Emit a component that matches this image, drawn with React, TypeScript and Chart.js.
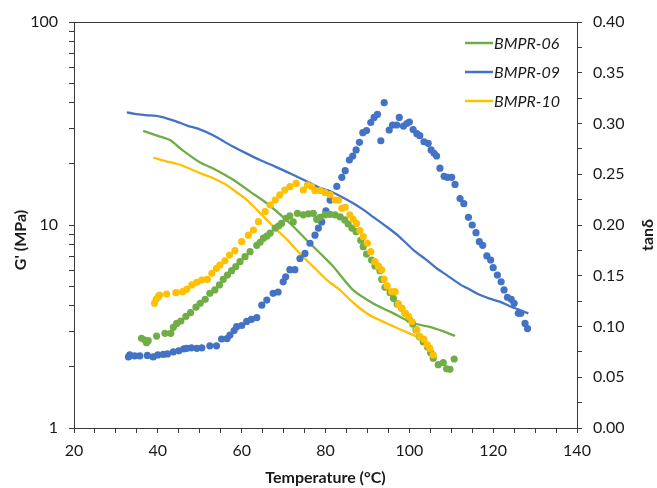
import { useEffect, useRef } from 'react';
import { Chart, registerables } from 'chart.js';

Chart.register(...registerables);

// ---- Axis ticks ----
const X_TICK_STEP = 5;
const Y_LOG_TICKS = [1, 2, 3, 4, 5, 6, 7, 8, 9, 10, 20, 30, 40, 50, 60, 70, 80, 90, 100];
const Y_LOG_LABELS = [1, 10, 100];

// ---- Series names & colours ----
const SERIES_NAMES = ['BMPR-06', 'BMPR-09', 'BMPR-10'];
const SERIES_COLORS = ['#70AD47', '#4472C4', '#FFC000'];

// ---- G' (MPa) curves (lines, left log axis) ----
const T06_G = [36.5, 40, 42.9, 45.7, 50.1, 53.2, 58, 62, 66, 71.5, 76.3, 78.7, 81.9, 83.5, 86.6, 91.4, 96.2, 101, 104.9, 108, 110.9];
const G06 = [29.1, 27.5, 26.2, 23.5, 20.3, 19.0, 16.7, 14.6, 12.8, 10.2, 8.12, 7.26, 6.23, 5.67, 4.78, 4.11, 3.67, 3.28, 3.15, 3.0, 2.84];

const T09_G = [32.6, 34.5, 37, 40.5, 44, 47, 50, 53.2, 56, 58, 61, 64.4, 68, 71.5, 75, 78.7, 81, 84, 86.6, 89, 91.5, 94.6, 97.5, 101, 104, 106.5, 109, 112.1, 114.5, 116.9, 119, 121.6, 124, 126.4, 128.4];
const G09 = [35.9, 35.3, 34.8, 34.2, 32.6, 30.9, 29.6, 27.7, 25.6, 24.3, 22.6, 20.9, 19.4, 18.0, 16.6, 15.2, 14.7, 13.7, 12.8, 11.9, 10.9, 9.8, 8.8, 7.53, 6.75, 6.12, 5.65, 5.1, 4.8, 4.52, 4.35, 4.19, 3.98, 3.81, 3.67];

const T10_G = [38.9, 42, 45.3, 50.1, 53.2, 56, 58, 61, 63.6, 66, 68.4, 71, 73.1, 75.5, 77.9, 80.3, 83.5, 86, 88.2, 91, 94.6, 98, 101.8];
const G10 = [21.5, 20.6, 19.8, 18.0, 17.0, 15.9, 14.9, 13.4, 11.9, 10.6, 9.45, 8.4, 7.53, 6.7, 6.0, 5.36, 4.78, 4.25, 3.89, 3.55, 3.28, 3.05, 2.82];

// ---- tan delta (dots, right axis) ----
const T06_D = [36.1, 36.9, 37.3, 37.7, 39.7, 41.7, 43.1, 43.7, 44.5, 45.5, 46.7, 47.8, 49.1, 50.1, 51.3, 52.4, 53.6, 54.7, 55.6, 56.6, 57.6, 58.6, 59.6, 60.8, 62, 63.6, 64.4, 65.2, 66, 66.8, 68, 68.8, 69.5, 70.6, 71.5, 72.3, 73.3, 74.7, 75.9, 77.1, 77.9, 78.7, 79.9, 81.1, 82.3, 83.5, 84.6, 85.4, 86.3, 87.3, 88.4, 89, 89.8, 91, 91.8, 93, 93.4, 94.2, 95.4, 96.2, 97.1, 98.2, 99, 100, 100.8, 101.6, 102.4, 103.3, 104.3, 105.1, 105.7, 106.9, 108.1, 108.9, 109.7, 110.7];
const D06 = [0.0884, 0.0867, 0.084, 0.086, 0.0906, 0.0933, 0.0933, 0.0992, 0.103, 0.1054, 0.110, 0.1136, 0.119, 0.1229, 0.1268, 0.1327, 0.136, 0.141, 0.1465, 0.1507, 0.155, 0.159, 0.1639, 0.1688, 0.1737, 0.180, 0.183, 0.187, 0.189, 0.192, 0.197, 0.199, 0.2016, 0.2066, 0.209, 0.203, 0.2115, 0.210, 0.211, 0.2115, 0.2056, 0.2076, 0.210, 0.2105, 0.210, 0.208, 0.205, 0.201, 0.197, 0.1934, 0.185, 0.1786, 0.1714, 0.1655, 0.1596, 0.155, 0.1465, 0.1386, 0.1333, 0.1278, 0.1222, 0.118, 0.113, 0.107, 0.1025, 0.0966, 0.090, 0.085, 0.080, 0.0742, 0.0687, 0.0624, 0.0644, 0.0583, 0.0578, 0.068];

const T09_D = [33, 33.3, 34.5, 35.7, 37.5, 38.9, 40, 41.3, 42.3, 43.7, 45, 46.2, 46.9, 48, 49.3, 50.5, 52.4, 54, 55.2, 56.5, 57.2, 58.2, 58.8, 60, 61.2, 62.3, 63.6, 64.8, 66, 67.5, 68.7, 69.9, 70.5, 71.5, 72.7, 73.9, 75.1, 76.3, 77.5, 78.3, 79.1, 80.1, 81.1, 82.7, 83.9, 84.7, 85.7, 86.5, 87.3, 88.1, 88.9, 89.8, 90.8, 91.6, 92.4, 93.2, 94.0, 95.2, 96, 97, 97.6, 98.6, 99.4, 100, 100.9, 101.8, 102.5, 103.5, 104.5, 105.2, 105.9, 106.5, 107.3, 108.3, 109.1, 110.1, 110.9, 112.1, 113, 114.1, 115, 115.9, 116.7, 117.5, 118.5, 119.4, 120, 121, 121.9, 122.6, 123.4, 124.3, 125, 126, 126.6, 127.6, 128.2];
const D09 = [0.070, 0.072, 0.071, 0.071, 0.0715, 0.070, 0.072, 0.0726, 0.073, 0.075, 0.076, 0.078, 0.0785, 0.079, 0.0785, 0.079, 0.081, 0.081, 0.0877, 0.088, 0.0916, 0.096, 0.0998, 0.101, 0.105, 0.107, 0.1087, 0.121, 0.126, 0.1327, 0.134, 0.144, 0.149, 0.156, 0.156, 0.167, 0.172, 0.182, 0.19, 0.197, 0.203, 0.214, 0.2246, 0.238, 0.247, 0.2535, 0.264, 0.268, 0.274, 0.2815, 0.291, 0.293, 0.301, 0.306, 0.309, 0.283, 0.3205, 0.2936, 0.2985, 0.2985, 0.306, 0.2975, 0.300, 0.3015, 0.294, 0.290, 0.288, 0.282, 0.2805, 0.274, 0.2706, 0.268, 0.256, 0.248, 0.247, 0.247, 0.240, 0.226, 0.221, 0.2076, 0.200, 0.1924, 0.1836, 0.180, 0.1695, 0.1655, 0.158, 0.1507, 0.144, 0.136, 0.1288, 0.1268, 0.1228, 0.113, 0.113, 0.103, 0.098];

const T10_D = [39.2, 39.6, 40.1, 40.4, 42.1, 44.3, 45.9, 46.9, 48.1, 49.3, 50.5, 51.8, 52.9, 54, 54.8, 56, 57.1, 58.4, 60, 61.6, 62.8, 64, 65.6, 66.8, 68, 69.1, 70.3, 71.5, 73, 74.7, 75.7, 76.7, 77.5, 78.7, 79.9, 81.1, 82.3, 83.1, 83.9, 84.7, 85.8, 86.6, 87.4, 88.2, 89, 90, 90.8, 91.8, 92.6, 93.4, 94, 94.7, 95.8, 96.6, 97.4, 98.2, 99, 99.8, 100.6, 101.8, 102.5, 103.5, 104.3, 104.9, 105.7];
const D10 = [0.1229, 0.1268, 0.1294, 0.131, 0.132, 0.1333, 0.1343, 0.1366, 0.141, 0.1435, 0.1458, 0.1465, 0.1524, 0.1573, 0.1606, 0.1648, 0.1704, 0.1747, 0.1836, 0.190, 0.195, 0.2033, 0.2131, 0.2197, 0.2246, 0.2296, 0.2345, 0.2378, 0.241, 0.2345, 0.2394, 0.2378, 0.234, 0.234, 0.2318, 0.230, 0.2246, 0.2246, 0.2165, 0.2175, 0.210, 0.2056, 0.2016, 0.1944, 0.1885, 0.182, 0.1737, 0.1639, 0.1596, 0.1557, 0.1465, 0.140, 0.1343, 0.1343, 0.1222, 0.118, 0.113, 0.110, 0.1047, 0.0966, 0.090, 0.0874, 0.0818, 0.0785, 0.072];

const pts = (xs: number[], ys: number[]) => xs.map((x, i) => ({ x, y: ys[i] }));

const FONT_FAMILY = "Lato, 'Noto Sans', 'DejaVu Sans', sans-serif";
const AXIS_COLOR = '#3a3a3a';
const TEXT_COLOR = '#1a1a1a';

const titlesAndLegend = {
  id: 'titlesAndLegend',
  afterDraw(chart: any) {
    const ctx = chart.ctx;
    const area = chart.chartArea;
    ctx.save();
    // top border of plot area
    ctx.strokeStyle = AXIS_COLOR;
    ctx.lineWidth = 1;
    ctx.beginPath();
    ctx.moveTo(area.left, area.top + 0.5);
    ctx.lineTo(area.right, area.top + 0.5);
    ctx.stroke();

    ctx.fillStyle = TEXT_COLOR;
    ctx.font = `bold 16px ${FONT_FAMILY}`;
    ctx.textAlign = 'center';
    ctx.textBaseline = 'middle';
    ctx.fillText('Temperature (°C)', (area.left + area.right) / 2, 478);

    ctx.save();
    ctx.translate(21, 240);
    ctx.rotate(-Math.PI / 2);
    ctx.fillText("G' (MPa)", 0, 0);
    ctx.restore();

    ctx.save();
    ctx.translate(648, 235);
    ctx.rotate(-Math.PI / 2);
    ctx.fillText('tanδ', 0, 0);
    ctx.restore();

    // legend
    ctx.font = `italic 16px ${FONT_FAMILY}`;
    ctx.textAlign = 'left';
    SERIES_NAMES.forEach((name, i) => {
      const y = 43 + i * 29;
      ctx.strokeStyle = SERIES_COLORS[i];
      ctx.lineWidth = 2.5;
      ctx.beginPath();
      ctx.moveTo(465, y);
      ctx.lineTo(493, y);
      ctx.stroke();
      ctx.fillStyle = TEXT_COLOR;
      ctx.fillText(name, 494, y + 1);
    });
    ctx.restore();
  },
};

export default function App() {
  const ref = useRef<HTMLCanvasElement>(null);

  useEffect(() => {
    if (!ref.current) return;
    const lineSets = [
      [T06_G, G06],
      [T09_G, G09],
      [T10_G, G10],
    ];
    const dotSets = [
      [T06_D, D06],
      [T09_D, D09],
      [T10_D, D10],
    ];
    const dotOrder = [1, 2, 0];
    const datasets: any[] = [];
    lineSets.forEach(([xs, ys], i) => {
      datasets.push({
        label: SERIES_NAMES[i],
        data: pts(xs, ys),
        yAxisID: 'y',
        showLine: true,
        borderColor: SERIES_COLORS[i],
        backgroundColor: SERIES_COLORS[i],
        borderWidth: 2.3,
        pointRadius: 0,
        tension: 0.25,
        order: 5 + i,
      });
    });
    dotSets.forEach(([xs, ys], i) => {
      datasets.push({
        label: SERIES_NAMES[i] + ' tanδ',
        data: pts(xs, ys),
        yAxisID: 'y2',
        showLine: false,
        backgroundColor: SERIES_COLORS[i],
        borderColor: SERIES_COLORS[i],
        borderWidth: 0,
        pointRadius: 3.6,
        order: dotOrder[i],
      });
    });

    const tickFont = { family: FONT_FAMILY, size: 16 };
    const gridCommon = {
      drawOnChartArea: false,
      drawTicks: true,
      tickLength: 5,
      tickColor: AXIS_COLOR,
      color: AXIS_COLOR,
      lineWidth: 1,
    };
    const borderCommon = { display: true, color: AXIS_COLOR, width: 1 };

    const chart = new Chart(ref.current, {
      type: 'scatter',
      data: { datasets },
      plugins: [titlesAndLegend],
      options: {
        responsive: false,
        animation: false,
        devicePixelRatio: 1,
        layout: { padding: { top: 22, left: 0, right: 0, bottom: 0 } },
        plugins: {
          legend: { display: false },
          tooltip: { enabled: false },
        },
        scales: {
          x: {
            type: 'linear',
            position: 'bottom',
            min: 20,
            max: 140,
            afterFit: (s: any) => {
              s.height = 60;
            },
            grid: gridCommon,
            border: borderCommon,
            ticks: {
              stepSize: X_TICK_STEP,
              autoSkip: false,
              maxRotation: 0,
              padding: 8,
              font: tickFont,
              color: TEXT_COLOR,
              callback: (v: any) => (Math.round(Number(v)) % 20 === 0 ? String(Math.round(Number(v))) : ''),
            },
          },
          y: {
            type: 'logarithmic',
            position: 'left',
            min: 1,
            max: 100,
            afterFit: (s: any) => {
              s.width = 74;
            },
            afterBuildTicks: (s: any) => {
              s.ticks = Y_LOG_TICKS.map((v) => ({ value: v }));
            },
            grid: gridCommon,
            border: borderCommon,
            ticks: {
              autoSkip: false,
              padding: 11,
              font: tickFont,
              color: TEXT_COLOR,
              callback: (v: any) => (Y_LOG_LABELS.includes(Number(v)) ? String(v) : ''),
            },
          },
          y2: {
            type: 'linear',
            position: 'right',
            min: 0,
            max: 0.4,
            afterFit: (s: any) => {
              s.width = 80;
            },
            grid: gridCommon,
            border: borderCommon,
            ticks: {
              stepSize: 0.025,
              autoSkip: false,
              padding: 11,
              font: tickFont,
              color: TEXT_COLOR,
              callback: (v: any) => (Math.round(Number(v) * 1000) % 50 === 0 ? Number(v).toFixed(2) : ''),
            },
          },
        },
      } as any,
    });
    return () => chart.destroy();
  }, []);

  return (
    <div style={{ position: 'absolute', left: 0, top: 0, width: 657, height: 488, background: '#fff' }}>
      <canvas ref={ref} width={657} height={488} style={{ display: 'block', width: 657, height: 488 }} />
    </div>
  );
}
